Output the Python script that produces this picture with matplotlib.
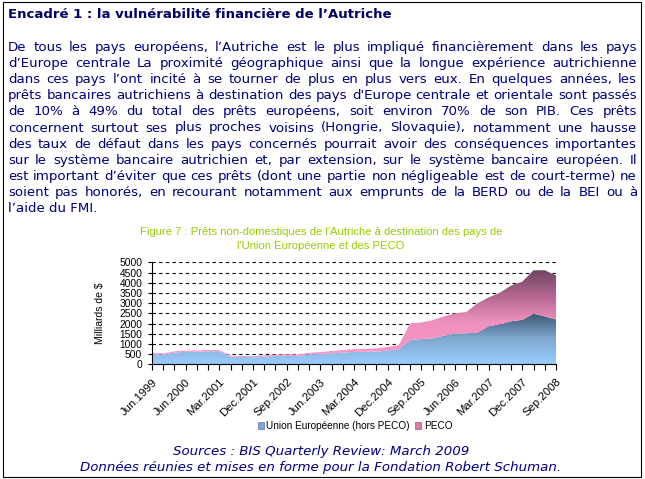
import numpy as np
import matplotlib
matplotlib.use("Agg")
from matplotlib import pyplot as plt
from matplotlib.colors import LinearSegmentedColormap
from matplotlib.patches import Rectangle, Patch

W, H = 645, 479

# prêts non-domestiques (milliards de $), trimestres de Jun.1999 à Sep.2008
ue_hors_peco = [520, 470, 580, 610, 610, 640, 640, 380, 360, 345, 375, 420, 410,
                410, 490, 510, 540, 570, 610, 615, 625, 670, 750, 1190, 1240,
                1275, 1400, 1510, 1520, 1550, 1870, 1960, 2110, 2180, 2480, 2350, 2200]
peco = [50, 60, 60, 60, 70, 60, 60, 50, 50, 50, 65, 60, 80,
        70, 70, 90, 110, 130, 130, 140, 150, 180, 200, 820, 810,
        885, 940, 990, 1040, 1440, 1410, 1550, 1750, 1870, 2130, 2260, 2150]
tick_labels = ["Jun.1999", "Jun.2000", "Mar.2001", "Dec.2001", "Sep.2002", "Jun.2003",
               "Mar.2004", "Dec.2004", "Sep.2005", "Jun.2006", "Mar.2007", "Dec.2007",
               "Sep.2008"]
serie_names = ["Union Européenne (hors PECO)", "PECO"]

title = "Encadré 1 : la vulnérabilité financière de l’Autriche"
body_lines = [
    "De tous les pays européens, l’Autriche est le plus impliqué financièrement dans les pays",
    "d’Europe centrale La proximité géographique ainsi que la longue expérience autrichienne",
    "dans ces pays l’ont incité à se tourner de plus en plus vers eux. En quelques années, les",
    "prêts bancaires autrichiens à destination des pays d'Europe centrale et orientale sont passés",
    "de 10% à 49% du total des prêts européens, soit environ 70% de son PIB. Ces prêts",
    "concernent surtout ses plus proches voisins (Hongrie, Slovaquie), notamment une hausse",
    "des taux de défaut dans les pays concernés pourrait avoir des conséquences importantes",
    "sur le système bancaire autrichien et, par extension, sur le système bancaire européen. Il",
    "est important d’éviter que ces prêts (dont une partie non négligeable est de court-terme) ne",
    "soient pas honorés, en recourant notamment aux emprunts de la BERD ou de la BEI ou à",
    "l’aide du FMI.",
]
chart_title = ["Figure 7 : Prêts non-domestiques de l'Autriche à destination des pays de",
               "l'Union Européenne et des PECO"]
sources = ["Sources : BIS Quarterly Review: March 2009",
           "Données réunies et mises en forme pour la Fondation Robert Schuman."]

navy = "#000080"
arial = "Liberation Sans"

fig = plt.figure(figsize=(W / 100, H / 100), dpi=100)
renderer = fig.canvas.get_renderer()


def fx(x):
    return x / W


def fy(y):
    return 1 - y / H


# cadre
fig.patches.append(Rectangle((fx(2.5), fy(476.5)), 638 / W, 475 / H, transform=fig.transFigure,
                             fill=False, ec="black", lw=0.8))

fig.text(fx(8), fy(18), title, fontsize=9.5, fontweight="bold", color="#000066",
         family="DejaVu Sans", va="baseline", ha="left")

# taille du texte : la ligne la plus longue doit tenir dans le cadre
x0, x1 = 8, 637
probe = fig.text(0, 0, max(body_lines, key=len), fontsize=10, family="DejaVu Sans")
body_size = min(9.6, 10 * (x1 - x0 - 4) / probe.get_window_extent(renderer).width)
probe.remove()

# texte justifié
for k, line in enumerate(body_lines):
    yb = 51 + k * 16.1
    kw = dict(fontsize=body_size, color=navy, family="DejaVu Sans", va="baseline", ha="left")
    if k == len(body_lines) - 1:
        fig.text(fx(x0), fy(yb), line, **kw)
        continue
    words = line.split(" ")
    texts = [fig.text(0, fy(yb), w, **kw) for w in words]
    widths = [t.get_window_extent(renderer).width for t in texts]
    gap = (x1 - x0 - sum(widths)) / (len(words) - 1)
    pos = x0
    for t, w in zip(texts, widths):
        t.set_x(fx(pos))
        pos += w + gap

# titre du graphique
for k, line in enumerate(chart_title):
    fig.text(fx(321), fy(232 + k * 14), line, fontsize=8.1, color="#99CC00", family=arial,
             ha="center", va="center")

# graphique
ax = fig.add_axes([fx(152), fy(364.3), (556 - 152) / W, (364.3 - 262.3) / H])
x = np.arange(len(ue_hors_peco))
eu = np.array(ue_hors_peco)
tot = eu + np.array(peco)

poly_eu = ax.fill_between(x, 0, eu, facecolor="none", lw=0)
poly_pe = ax.fill_between(x, eu, tot, facecolor="none", lw=0)
cm_eu = LinearSegmentedColormap.from_list("eu", ["#99CCFF", "#7FA7CF", "#3E5673"])
cm_pe = LinearSegmentedColormap.from_list(
    "pe", [(0, "#FF99CC"), (0.45, "#EE90BE"), (0.72, "#B26690"), (1, "#6C4460")])
grad = np.linspace(0, 1, 256).reshape(-1, 1)
im1 = ax.imshow(grad, cmap=cm_eu, aspect="auto", origin="lower",
                extent=[0, x[-1], 0, eu.max()], zorder=2)
im1.set_clip_path(poly_eu.get_paths()[0], transform=ax.transData)
im2 = ax.imshow(grad, cmap=cm_pe, aspect="auto", origin="lower",
                extent=[0, x[-1], 0, tot.max()], zorder=2)
im2.set_clip_path(poly_pe.get_paths()[0], transform=ax.transData)

ax.set_xlim(0, x[-1])
ax.set_ylim(0, 5000)
ax.set_yticks(range(0, 5001, 500))
ax.set_xticks(x[::3])
ax.set_xticks(x, minor=True)
ax.set_xticklabels(tick_labels, rotation=45, ha="right", rotation_mode="anchor",
                   fontsize=8.2, family=arial)
for lab in ax.get_yticklabels():
    lab.set_fontsize(7.4)
    lab.set_family(arial)
ax.tick_params(axis="x", which="both", direction="out", length=4, width=0.8, pad=5)
ax.tick_params(axis="y", direction="out", length=3, width=0.8, pad=4)
ax.grid(axis="y", ls=(0, (3, 3)), color="black", lw=0.8)
ax.set_axisbelow(True)
for s in ["top", "right"]:
    ax.spines[s].set_visible(False)
for s in ["left", "bottom"]:
    ax.spines[s].set_linewidth(0.8)
    ax.spines[s].set_zorder(3)
ax.set_ylabel("Milliards de $", fontsize=7.5, family=arial, labelpad=10)

handles = [Patch(facecolor="#7FA6D6", edgecolor="#5577AA", lw=0.5),
           Patch(facecolor="#D87DAA", edgecolor="#A05577", lw=0.5)]
fig.legend(handles, serie_names, loc="center", bbox_to_anchor=(fx(355), fy(426)), ncol=2,
           frameon=False, handlelength=0.6, handleheight=0.6, handletextpad=0.3,
           columnspacing=0.5, prop={"family": arial, "size": 7.2})

for k, line in enumerate(sources):
    fig.text(fx(321), fy(451 + k * 16.5), line, fontsize=9.6, color=navy, family="DejaVu Sans",
             style="italic", ha="center", va="center")

fig.savefig("out.png", dpi=100)
